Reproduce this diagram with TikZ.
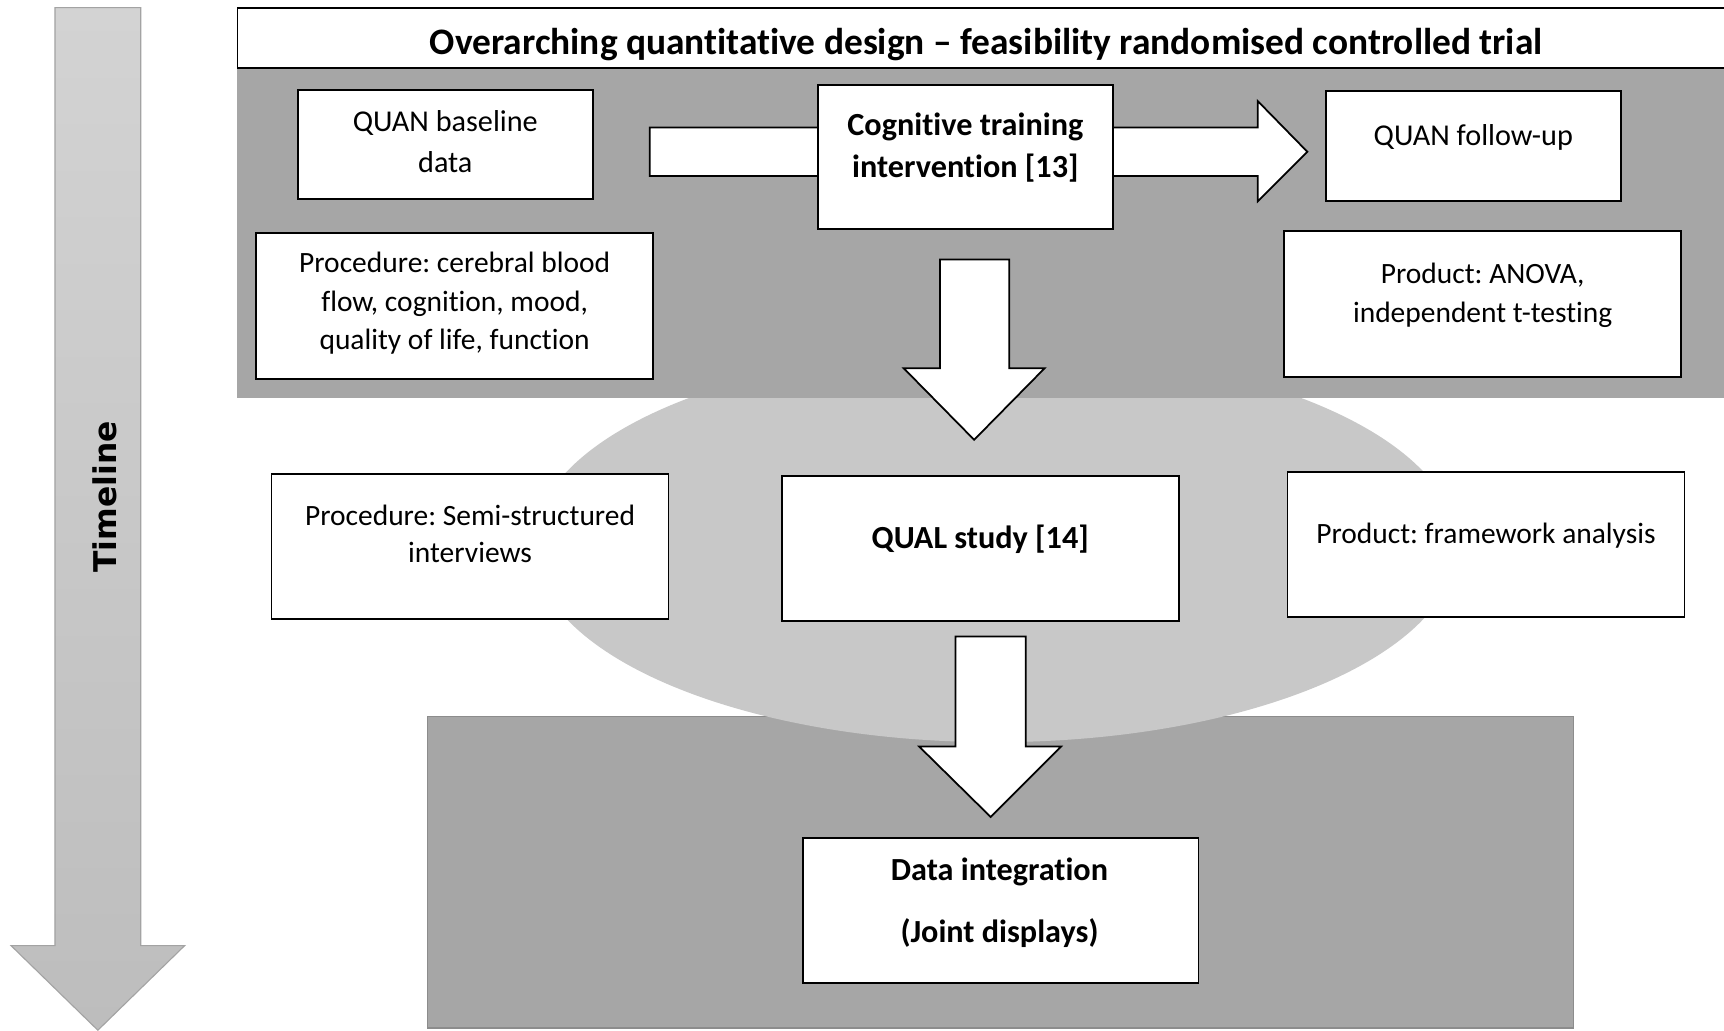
\documentclass[tikz,border=0pt]{standalone}
\usepackage{fontspec}
\usetikzlibrary{shapes.geometric}
\setmainfont{Carlito}[Ligatures={NoCommon,NoRequired,NoContextual}]
\newfontfamily\tlfont{DejaVu Sans}
\frenchspacing
\definecolor{darkband}{HTML}{A6A6A6}
\definecolor{ellgray}{HTML}{C8C8C8}
\definecolor{tltop}{HTML}{D3D3D3}
\definecolor{tlbot}{HTML}{BDBDBD}
\definecolor{tledge}{HTML}{A3A3A3}
\definecolor{bandedge}{HTML}{8C8C8C}
\tikzset{
  box/.style={draw=black, line width=1.6pt, fill=white, inner sep=0pt},
  txt/.style={font=\fontsize{26.8}{35}\selectfont, align=center, anchor=base, inner sep=0pt},
  btxt/.style={font=\bfseries\fontsize{29.3}{38}\selectfont, align=center, anchor=base, inner sep=0pt},
  blockarrow/.style={draw=black, line width=1.6pt, fill=white, line join=miter},
}
\begin{document}
\begin{tikzpicture}[x=1pt, y=-1pt]
\useasboundingbox (0,0) rectangle (1568,937);
\clip (0,0) rectangle (1568,937);
\fill[white] (0,0) rectangle (1568,937);

% timeline arrow
\shade[top color=tltop, bottom color=tlbot, draw=tledge, line width=1pt]
  (50,7) -- (128,7) -- (128,860) -- (168,860) -- (89,937) -- (10,860) -- (50,860) -- cycle;
\node[rotate=90, inner sep=0pt, font=\tlfont\bfseries\fontsize{28.5}{32}\selectfont] (tl) at (95,452) {Timeline};

% bottom grey box
\node[draw=bandedge, line width=1pt, fill=darkband, minimum width=1042pt, minimum height=283pt, inner sep=0pt] (bottom) at (910,793.5) {};

% ellipse
\node[ellipse, fill=ellgray, minimum width=840pt, minimum height=358pt, inner sep=0pt] (ell) at (905,496) {};

% top band
\node[fill=darkband, minimum width=1364pt, minimum height=300pt, inner sep=0pt] (band) at (898,212) {};
\node[box, minimum width=1364pt, minimum height=55pt] (title) at (898,34.5) {};
\node[font=\bfseries\fontsize{34}{40}\selectfont, anchor=base, inner sep=0pt] (titletxt) at (897,49.5) {Overarching quantitative design – feasibility randomised controlled trial};

% right block arrow
\draw[blockarrow] (591,116) -- (1144,116) -- (1144,92) -- (1189,138) -- (1144,183) -- (1144,160) -- (591,160) -- cycle;

% boxes in top band
\node[box, minimum width=268pt, minimum height=99pt] (qb) at (405,131.5) {};
\node[txt, font=\fontsize{27.5}{37}\selectfont] (qbt) at (405,157) {QUAN baseline\\data};
\node[box, minimum width=361pt, minimum height=133pt] (pc) at (413.5,278.5) {};
\node[txt] (pct) at (413.5,318) {Procedure: cerebral blood\\flow, cognition, mood,\\quality of life, function};
\node[box, minimum width=268pt, minimum height=131pt] (cog) at (878,142.5) {};
\node[btxt] (cogt) at (878,161.5) {Cognitive training\\intervention [13]};
\node[box, minimum width=268pt, minimum height=100pt] (qf) at (1340,133) {};
\node[txt, font=\fontsize{27.5}{35}\selectfont] (qft) at (1340,132) {QUAN follow-up};
\node[box, minimum width=361pt, minimum height=133pt] (pa) at (1348.5,276.5) {};
\node[txt] (pat) at (1348.5,293) {Product: ANOVA,\\independent t-testing};

% down arrow 1
\draw[blockarrow] (855,236) -- (918,236) -- (918,335) -- (950,335) -- (886,400) -- (822,335) -- (855,335) -- cycle;

% middle boxes
\node[box, minimum width=361pt, minimum height=132pt] (ps) at (427.5,497) {};
\node[txt, font=\fontsize{26.8}{34}\selectfont] (pst) at (427.5,512) {Procedure: Semi-structured\\interviews};
\node[box, minimum width=361pt, minimum height=132pt] (qs) at (891.5,499) {};
\node[btxt] (qst) at (891.5,498.5) {QUAL study [14]};
\node[box, minimum width=361pt, minimum height=132pt] (pf) at (1351.5,495) {};
\node[txt] (pft) at (1351.5,494.5) {Product: framework analysis};

% down arrow 2
\draw[blockarrow] (869,579) -- (933,579) -- (933,679) -- (965,679) -- (901,743) -- (836,679) -- (869,679) -- cycle;

% data integration
\node[box, minimum width=360pt, minimum height=132pt] (di) at (910,828) {};
\node[btxt, font=\bfseries\fontsize{29.3}{57}\selectfont] (dit) at (909,857.5) {Data integration\\(Joint displays)};
\end{tikzpicture}
\end{document}
